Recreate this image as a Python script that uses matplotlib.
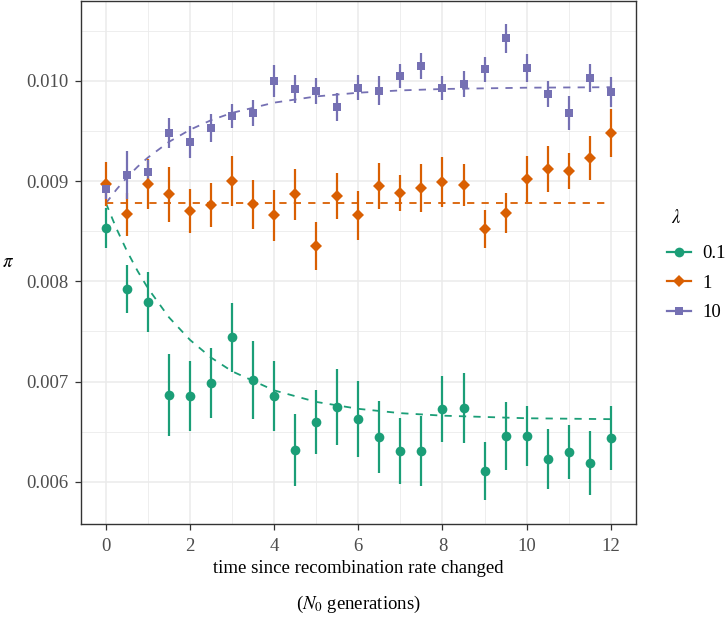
import matplotlib
matplotlib.use("Agg")
import matplotlib.pyplot as plt
from matplotlib.lines import Line2D

# Data
times = [0, 0.5, 1, 1.5, 2, 2.5, 3, 3.5, 4, 4.5, 5, 5.5, 6,
         6.5, 7, 7.5, 8, 8.5, 9, 9.5, 10, 10.5, 11, 11.5, 12]

pi_01 = [0.008531, 0.007923, 0.007794, 0.006868, 0.006858, 0.006983, 0.007440,
         0.007013, 0.006858, 0.006321, 0.006593, 0.006745, 0.006629, 0.006447,
         0.006305, 0.006308, 0.006725, 0.006735, 0.006106, 0.006457, 0.006457,
         0.006225, 0.006298, 0.006190, 0.006434]
err_01 = [0.00020, 0.00024, 0.00030, 0.00041, 0.00035, 0.00035, 0.00034,
          0.00039, 0.00035, 0.00036, 0.00032, 0.00038, 0.00038, 0.00036,
          0.00033, 0.00035, 0.00033, 0.00035, 0.00029, 0.00034, 0.00030,
          0.00030, 0.00027, 0.00032, 0.00032]

pi_1 = [0.008973, 0.008667, 0.008973, 0.008867, 0.008700, 0.008760, 0.009000,
        0.008767, 0.008657, 0.008867, 0.008350, 0.008850, 0.008657, 0.008950,
        0.008883, 0.008927, 0.008993, 0.008960, 0.008523, 0.008680, 0.009020,
        0.009117, 0.009100, 0.009230, 0.009483]
err_1 = [0.00022, 0.00021, 0.00025, 0.00027, 0.00022, 0.00022, 0.00025,
         0.00024, 0.00025, 0.00025, 0.00024, 0.00023, 0.00024, 0.00023,
         0.00018, 0.00024, 0.00025, 0.00021, 0.00019, 0.00020, 0.00023,
         0.00023, 0.00018, 0.00022, 0.00024]

pi_10 = [0.008917, 0.009063, 0.009090, 0.009483, 0.009387, 0.009530, 0.009647,
         0.009680, 0.009997, 0.009923, 0.009900, 0.009737, 0.009933, 0.009900,
         0.010047, 0.010153, 0.009930, 0.009967, 0.010117, 0.010423, 0.010133,
         0.009870, 0.009680, 0.010027, 0.009887]
err_10 = [0.00010, 0.00024, 0.00012, 0.00015, 0.00016, 0.00014, 0.00012,
          0.00013, 0.00016, 0.00014, 0.00013, 0.00014, 0.000125, 0.000145,
          0.00012, 0.00013, 0.00012, 0.00013, 0.000125, 0.00014, 0.00014,
          0.00013, 0.00017, 0.00014, 0.00015]

# expected curves (dashed), read at selected times
curve_times = [0, 0.25, 0.5, 0.75, 1, 1.5, 2, 2.5, 3, 4, 5, 6, 7, 8, 10, 12]
curve_01 = [0.008780, 0.008526, 0.008302, 0.008105, 0.007930, 0.007640,
            0.007415, 0.007239, 0.007102, 0.006912, 0.006797, 0.006728,
            0.006685, 0.006660, 0.006634, 0.006625]
curve_1 = [0.008780] * len(curve_times)
curve_10 = [0.008780, 0.008916, 0.009037, 0.009143, 0.009236, 0.009392,
            0.009513, 0.009608, 0.009681, 0.009783, 0.009845, 0.009882,
            0.009905, 0.009919, 0.009932, 0.009937]

labels = ["0.1", "1", "10"]
colors = ["#1B9E77", "#D95F02", "#7570B3"]
markers = ["o", "D", "s"]
marker_sizes = [7.0, 6.2, 6.2]

plt.rcParams["font.family"] = ["Liberation Serif", "DejaVu Serif"]
plt.rcParams["mathtext.fontset"] = "stix"
FS = 13.5

fig = plt.figure(figsize=(7.28, 6.2), dpi=100)
ax = fig.add_axes([80.7 / 728, 1 - 524 / 620, (636 - 80.7) / 728, 523 / 620])

series = [(pi_01, err_01, curve_01), (pi_1, err_1, curve_1), (pi_10, err_10, curve_10)]

# dashed expectation lines
for (vals, errs, curve), col in zip(series, colors):
    ax.plot(curve_times, curve, color=col, lw=1.3, linestyle=(0, (4, 4)), zorder=2)

# points with error bars
for (vals, errs, curve), col, mk, ms in zip(series, colors, markers, marker_sizes):
    ax.errorbar(times, vals, yerr=errs, fmt=mk, color=col, ms=ms,
                elinewidth=1.6, capsize=0, mew=0, zorder=3)

# grid in the theme_bw style
ax.set_xlim(-0.6, 12.6)
ax.set_ylim(0.005579, 0.010797)
ax.set_xticks([0, 2, 4, 6, 8, 10, 12])
ax.set_xticks([1, 3, 5, 7, 9, 11], minor=True)
ax.set_yticks([0.006, 0.007, 0.008, 0.009, 0.010])
ax.set_yticks([0.0065, 0.0075, 0.0085, 0.0095, 0.0105], minor=True)
ax.set_yticklabels(["0.006", "0.007", "0.008", "0.009", "0.010"])
ax.grid(which="major", color="#EBEBEB", lw=1.1, zorder=0)
ax.grid(which="minor", color="#EBEBEB", lw=0.6, zorder=0)
ax.set_axisbelow(True)
for sp in ax.spines.values():
    sp.set_color("#333333")
    sp.set_linewidth(1.0)
ax.tick_params(which="major", length=4, width=0.9, color="#333333",
               labelsize=FS, labelcolor="#4D4D4D")
ax.tick_params(axis="x", pad=6)
ax.tick_params(axis="y", pad=5)
ax.tick_params(which="minor", length=0)

# axis titles
ax.set_ylabel(r"$\pi$", rotation=0, fontsize=FS, labelpad=10, va="center")
ax.yaxis.set_label_coords(-0.130, 0.5)
ax.set_xlabel("time since recombination rate changed\n($N_0$ generations)",
              fontsize=FS, linespacing=2.1)

# legend (title drawn separately to match the gap)
fig.text(671 / 728, 1 - 218 / 620, r"$\lambda$", fontsize=FS, ha="left", va="center")
handles = [Line2D([], [], color=c, marker=m, ms=ms, mew=0, lw=1.6)
           for c, m, ms in zip(colors, markers, marker_sizes)]
fig.legend(handles, labels, loc="upper left",
           bbox_to_anchor=(667 / 728, 1 - 245 / 620), frameon=False,
           fontsize=FS, handlelength=1.3,
           handletextpad=0.6, labelspacing=0.66, borderpad=0,
           borderaxespad=0)

fig.savefig("out.png", dpi=100)
